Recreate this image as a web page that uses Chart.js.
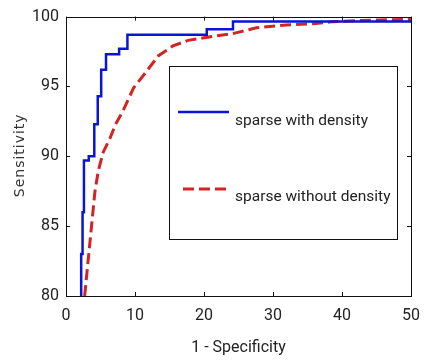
<!DOCTYPE html>
<html lang="en">
<head>
    <meta charset="UTF-8">
    <title>ROC curves</title>
    <script src="https://cdn.jsdelivr.net/npm/chart.js"></script>
    <style>
        body { margin: 0; background: #fff; }
        #wrap { width: 430px; height: 362px; }
    </style>
</head>
<body>
    <div id="wrap"><canvas id="roc" width="430" height="362"></canvas></div>

    <script>
        // values (x = 1 - specificity, y = sensitivity, both %)
        const blueX = [2.2, 2.2, 2.4, 2.4, 2.6, 2.6, 3.3, 3.3, 4.1, 4.1, 4.6, 4.6, 5.1, 5.1, 5.8, 5.8, 7.7, 7.7, 8.9, 8.9, 20.4, 20.4, 24.2, 24.2, 50];
        const blueY = [80, 83, 83, 86, 86, 89.7, 89.7, 90, 90, 92.3, 92.3, 94.3, 94.3, 96.2, 96.2, 97.3, 97.3, 97.7, 97.7, 98.7, 98.7, 99.1, 99.1, 99.65, 99.65];
        const redX = [2.7, 3.1, 3.4, 3.8, 4.2, 4.7, 5.4, 6.3, 7.2, 8.2, 9.8, 11.7, 13.4, 15.5, 17.7, 21.5, 24.3, 27.6, 31.9, 36.2, 38.6, 45.2, 50];
        const redY = [80, 82, 83.5, 85.5, 87.5, 89, 90.3, 91.2, 92.3, 93.2, 94.9, 96.1, 97.2, 97.9, 98.3, 98.6, 98.8, 99.2, 99.4, 99.5, 99.64, 99.76, 99.8];
        const xTicks = [0, 10, 20, 30, 40, 50];
        const yTicks = [80, 85, 90, 95, 100];
        const labels = ['sparse with density', 'sparse without density'];
        const yTitle = 'Sensitivity';

        const toPoints = (xs, ys) => xs.map((x, i) => ({ x: x, y: ys[i] }));
        const narrow = "'Roboto', 'Liberation Sans', sans-serif";

        // matlab style box with inward ticks
        const boxPlugin = {
            id: 'box',
            afterDatasetsDraw(chart) {
                const { ctx, chartArea: a, scales } = chart;
                ctx.save();
                ctx.strokeStyle = '#111';
                ctx.lineWidth = 1;
                ctx.strokeRect(Math.round(a.left) + 0.5, Math.round(a.top) + 0.5,
                    Math.round(a.right - a.left), Math.round(a.bottom - a.top));
                ctx.beginPath();
                xTicks.forEach(v => {
                    const px = Math.round(scales.x.getPixelForValue(v)) + 0.5;
                    ctx.moveTo(px, a.bottom); ctx.lineTo(px, a.bottom - 4);
                    ctx.moveTo(px, a.top); ctx.lineTo(px, a.top + 4);
                });
                yTicks.forEach(v => {
                    const py = Math.round(scales.y.getPixelForValue(v)) + 0.5;
                    ctx.moveTo(a.left, py); ctx.lineTo(a.left + 4, py);
                    ctx.moveTo(a.right, py); ctx.lineTo(a.right - 4, py);
                });
                ctx.stroke();

                // y title, letter spaced like the original
                ctx.translate(20, (a.top + a.bottom) / 2 - 1);
                ctx.rotate(-Math.PI / 2);
                ctx.letterSpacing = '1px';
                ctx.font = "14px 'DejaVu Sans', sans-serif";
                ctx.fillStyle = '#333';
                ctx.textAlign = 'center';
                ctx.textBaseline = 'middle';
                ctx.fillText(yTitle, 0, 0);
                ctx.restore();
            }
        };

        // legend box drawn inside the plot
        const legendPlugin = {
            id: 'boxLegend',
            afterDraw(chart) {
                const ctx = chart.ctx;
                const sets = chart.data.datasets;
                ctx.save();
                ctx.fillStyle = '#fff';
                ctx.fillRect(169.5, 66.5, 228, 173);
                ctx.strokeStyle = '#111';
                ctx.lineWidth = 1;
                ctx.strokeRect(169.5, 66.5, 228, 173);

                const rows = [{ y: 112, ty: 125, x0: 178 }, { y: 189, ty: 201, x0: 183 }];
                rows.forEach((r, i) => {
                    const ds = sets[i];
                    ctx.beginPath();
                    ctx.strokeStyle = ds.borderColor;
                    ctx.lineWidth = ds.borderWidth;
                    ctx.setLineDash(ds.borderDash || []);
                    ctx.moveTo(r.x0, r.y);
                    ctx.lineTo(229, r.y);
                    ctx.stroke();
                    ctx.setLineDash([]);
                    ctx.fillStyle = '#222';
                    ctx.font = '15.5px ' + narrow;
                    ctx.textBaseline = 'alphabetic';
                    ctx.fillText(ds.label, 235, r.ty);
                });
                ctx.restore();
            }
        };

        new Chart(document.getElementById('roc'), {
            type: 'line',
            data: {
                datasets: [{
                    label: labels[0],
                    data: toPoints(blueX, blueY),
                    borderColor: '#0a14d8',
                    borderWidth: 2.5,
                    pointRadius: 0,
                    tension: 0,
                    fill: false
                }, {
                    label: labels[1],
                    data: toPoints(redX, redY),
                    borderColor: '#d42323',
                    borderWidth: 3,
                    borderDash: [11, 5],
                    pointRadius: 0,
                    tension: 0,
                    fill: false
                }]
            },
            options: {
                responsive: false,
                devicePixelRatio: 1,
                animation: false,
                layout: { padding: { top: 15, right: 12, left: 0, bottom: 0 } },
                plugins: {
                    legend: { display: false },
                    tooltip: { enabled: false }
                },
                scales: {
                    x: {
                        type: 'linear',
                        min: 0, max: 50,
                        afterFit: s => { s.height = 66; },
                        afterBuildTicks: s => { s.ticks = xTicks.map(v => ({ value: v })); },
                        grid: { display: false, drawTicks: false },
                        border: { display: false },
                        ticks: { color: '#222', padding: 10, font: { family: narrow, size: 16 } },
                        title: {
                            display: true, text: '1 - Specificity', color: '#222',
                            padding: { top: 0, bottom: 4 },
                            font: { family: narrow, size: 16 }
                        }
                    },
                    y: {
                        min: 80, max: 100,
                        afterFit: s => { s.width = 66; },
                        afterBuildTicks: s => { s.ticks = yTicks.map(v => ({ value: v })); },
                        grid: { display: false, drawTicks: false },
                        border: { display: false },
                        ticks: { color: '#222', padding: 7, font: { family: narrow, size: 16 } },
                        title: { display: false }
                    }
                }
            },
            plugins: [boxPlugin, legendPlugin]
        });
    </script>
</body>
</html>
